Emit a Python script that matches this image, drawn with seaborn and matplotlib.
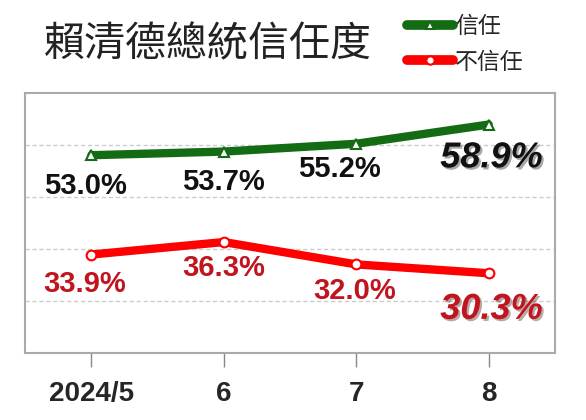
import pandas as pd
import matplotlib.pyplot as plt
import matplotlib.patheffects as pe
import seaborn as sns

months = ["2024/5", "6", "7", "8"]
trust = [53.0, 53.7, 55.2, 58.9]
distrust = [33.9, 36.3, 32.0, 30.3]
series_names = ["信任", "不信任"]

df = pd.DataFrame({
    "x": list(range(len(months))) * 2,
    "value": trust + distrust,
    "series": [series_names[0]] * len(months) + [series_names[1]] * len(months),
})

sns.set_style("white")
plt.rcParams["font.family"] = ["Noto Sans CJK TC", "DejaVu Sans"]

fig = plt.figure(figsize=(5.86, 4.20), dpi=100)
ax = fig.add_axes([0.043, 0.16, 0.904, 0.619])

colors = {"信任": "#136c13", "不信任": "#ff0000"}
markers = {"信任": "^", "不信任": "o"}
sns.lineplot(data=df, x="x", y="value", hue="series", style="series",
             palette=colors, markers=markers, dashes=False, linewidth=6,
             markersize=7, markerfacecolor="white", markeredgewidth=1.5,
             ax=ax, legend=True)
for line in ax.lines:
    line.set_markeredgecolor(line.get_color())

ax.set_xlim(-0.5, 3.5)
ax.set_ylim(15, 65)
ax.set_yticks([25, 35, 45, 55])
ax.set_yticklabels([])
ax.tick_params(axis="y", length=0)
ax.grid(axis="y", linestyle=(0, (3, 2)), color="#cccccc", linewidth=1)
ax.set_xticks(range(len(months)))
ax.set_xticklabels(months, fontsize=20, fontweight="bold", family="Liberation Sans")
ax.tick_params(axis="x", bottom=True, direction="out", length=10, width=1,
               color="#888888", pad=10)
ax.set_xlabel("")
ax.set_ylabel("")
for s in ax.spines.values():
    s.set_color("#aaaaaa")
    s.set_linewidth(1.5)

shadow = [pe.withSimplePatchShadow(offset=(1.5, -1.5), alpha=0.35)]

green_off = [(-4, -22), (0, -22), (-12, -18), (2, -24)]
red_off = [(-5, -21), (0, -19), (-1, -19), (2, -26)]
for i, v in enumerate(trust):
    last = i == len(trust) - 1
    ax.annotate(f"{v:.1f}%", (i, v), xytext=green_off[i], textcoords="offset points",
                ha="center", va="center", color="#111111", fontweight="bold",
                fontsize=26 if last else 21, style="italic" if last else "normal",
                family="Liberation Sans", path_effects=shadow if last else None)
for i, v in enumerate(distrust):
    last = i == len(distrust) - 1
    ax.annotate(f"{v:.1f}%", (i, v), xytext=red_off[i], textcoords="offset points",
                ha="center", va="center", color="#c0141e", fontweight="bold",
                fontsize=26 if last else 21, style="italic" if last else "normal",
                family="Liberation Sans", path_effects=shadow if last else None)

fig.text(0.075, 0.893, "賴清德總統信任度", fontsize=29.5, color="#222222",
         va="center", fontweight="medium")

leg = ax.legend(loc="upper left", bbox_to_anchor=(0.703, 1.335), frameon=False,
                fontsize=16.5, handlelength=2.0, labelspacing=0.55, handletextpad=0.1,
                borderaxespad=0)
for h in leg.legend_handles:
    h.set_linewidth(7)
    h.set_solid_capstyle("round")
    h.set_markerfacecolor("white")
    h.set_markeredgecolor(h.get_color())
    h.set_markersize(6)

fig.savefig("out.png", dpi=100)
